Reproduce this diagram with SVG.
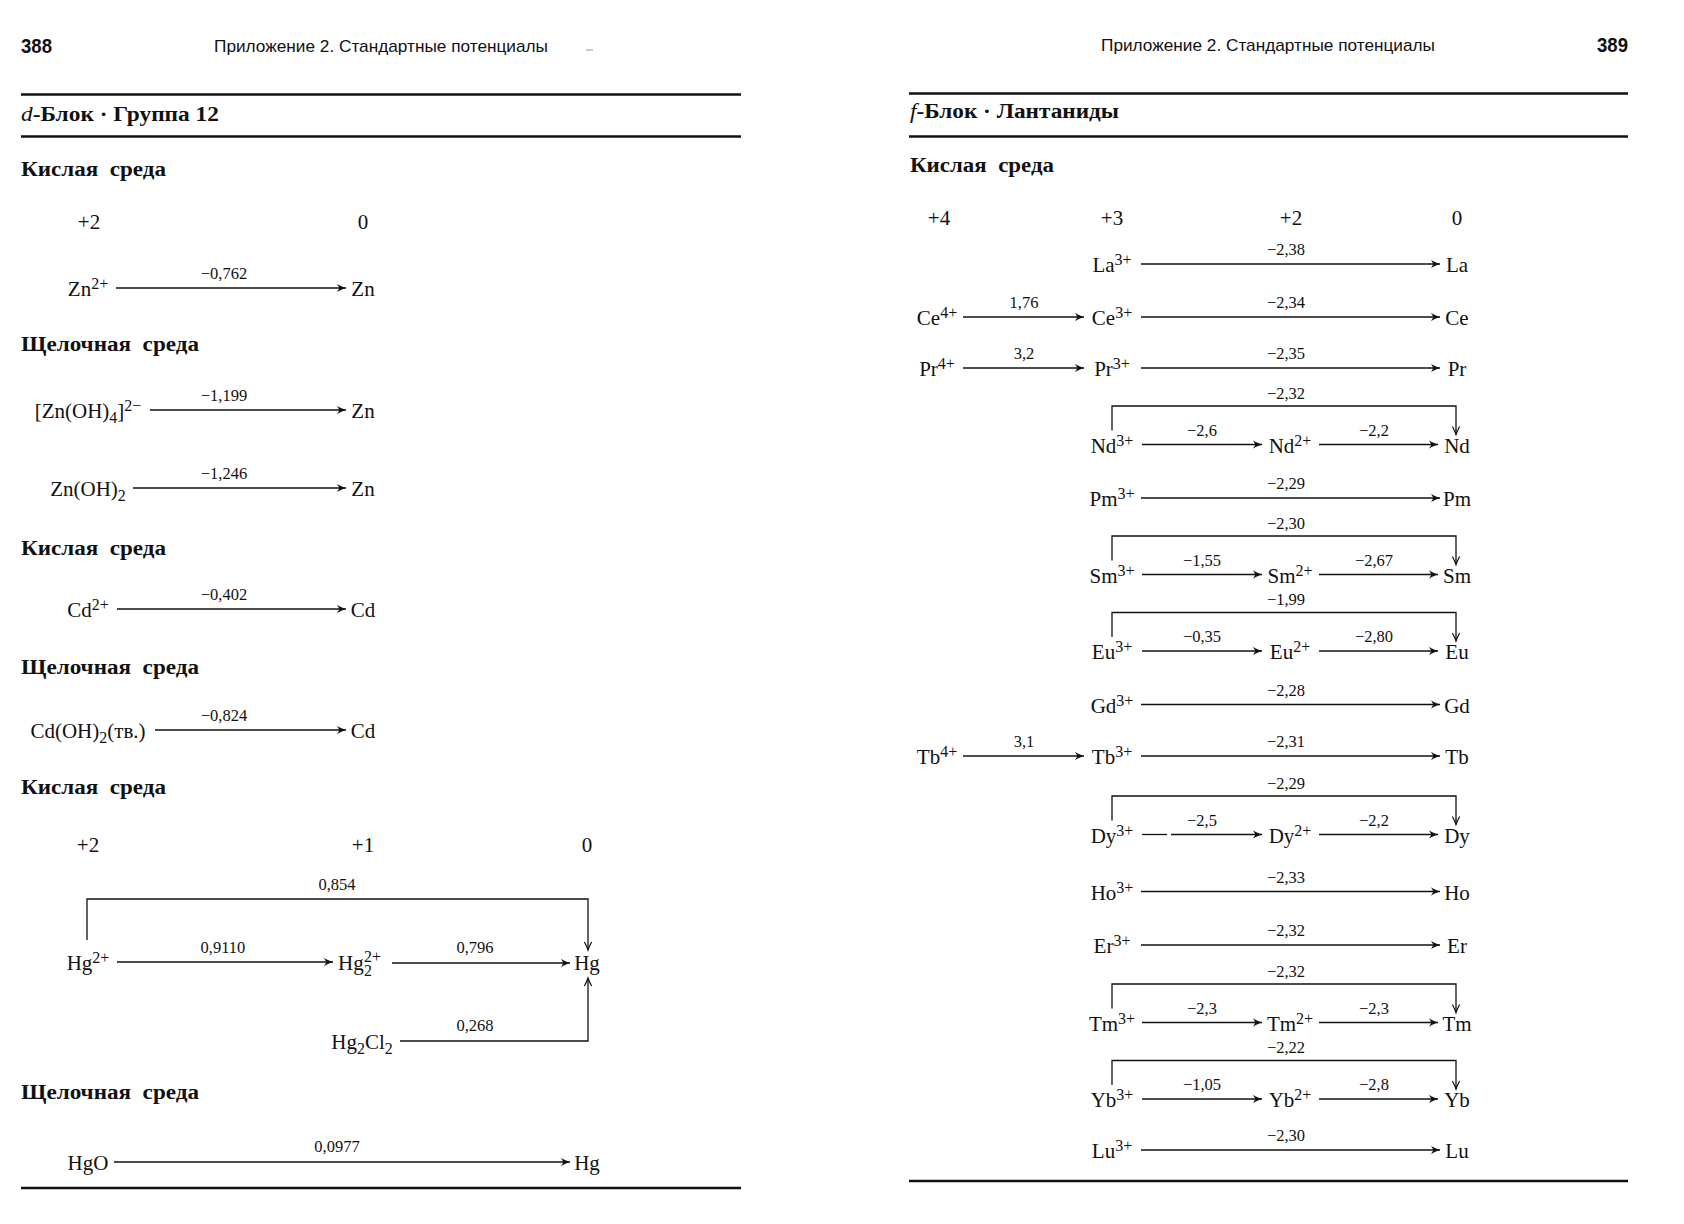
<svg xmlns="http://www.w3.org/2000/svg" width="1684" height="1224" viewBox="0 0 1684 1224">
<defs>
<style>
.el{font-family:"Liberation Serif","DejaVu Serif",serif;font-size:21px;fill:#111;text-anchor:middle}
.st{font-family:"Liberation Serif","DejaVu Serif",serif;font-size:21px;fill:#111;text-anchor:start}
.s{font-size:16px}
.lb{font-family:"Liberation Serif","DejaVu Serif",serif;font-size:16.5px;fill:#111;text-anchor:middle}
.hd{font-family:"Liberation Serif","DejaVu Serif",serif;font-weight:bold;font-size:20px;fill:#111}
.ox{font-family:"Liberation Serif","DejaVu Serif",serif;font-size:21px;fill:#111;text-anchor:middle}
.run{font-family:"Liberation Sans","Open Sans",sans-serif;font-size:17px;fill:#111}
.pg{font-family:"Liberation Sans","Open Sans",sans-serif;font-weight:bold;font-size:20px;fill:#111}
.ln{stroke:#111;stroke-width:1.3;fill:none}
.rule{stroke:#111;stroke-width:2.5}
</style>
<marker id="ah" viewBox="-10 -5 11 10" refX="0" refY="0" markerWidth="11" markerHeight="10" markerUnits="userSpaceOnUse" orient="auto" overflow="visible">
<path d="M0,0 C-3,-0.8 -6,-2.2 -9,-4.2 L-6.6,0 L-9,4.2 C-6,2.2 -3,0.8 0,0 Z" fill="#111"/>
</marker>
<marker id="av" viewBox="-10 -5 11 10" refX="0" refY="0" markerWidth="11" markerHeight="10" markerUnits="userSpaceOnUse" orient="auto" overflow="visible">
<path d="M-8,-3.6 Q-3,-1 0,0 Q-3,1 -8,3.6" fill="none" stroke="#111" stroke-width="1.2"/>
</marker>
</defs>
<rect width="1684" height="1224" fill="#fff"/>

<g id="page-left-frame">
<text class="pg" x="21" y="53" textLength="31" lengthAdjust="spacingAndGlyphs">388</text>
<text class="run" x="214" y="52" textLength="334" lengthAdjust="spacingAndGlyphs">Приложение 2. Стандартные потенциалы</text>
<line x1="586" y1="50" x2="593" y2="50" stroke="#999" stroke-width="1"/>
<line class="rule" x1="21" y1="94.5" x2="741" y2="94.5"/>
<line class="rule" x1="21" y1="136.5" x2="741" y2="136.5"/>
<line class="rule" x1="21" y1="1188" x2="741" y2="1188"/>
<text class="hd" x="21" y="121" textLength="198" lengthAdjust="spacingAndGlyphs"><tspan font-style="italic" font-weight="normal">d</tspan>-Блок · Группа 12</text>
<text class="hd" x="21" y="176" textLength="145" lengthAdjust="spacingAndGlyphs">Кислая <tspan dx="5">среда</tspan></text>
<text class="hd" x="21" y="351" textLength="178" lengthAdjust="spacingAndGlyphs">Щелочная <tspan dx="5">среда</tspan></text>
<text class="hd" x="21" y="555" textLength="145" lengthAdjust="spacingAndGlyphs">Кислая <tspan dx="5">среда</tspan></text>
<text class="hd" x="21" y="674" textLength="178" lengthAdjust="spacingAndGlyphs">Щелочная <tspan dx="5">среда</tspan></text>
<text class="hd" x="21" y="794" textLength="145" lengthAdjust="spacingAndGlyphs">Кислая <tspan dx="5">среда</tspan></text>
<text class="hd" x="21" y="1099" textLength="178" lengthAdjust="spacingAndGlyphs">Щелочная <tspan dx="5">среда</tspan></text>
<text class="ox" x="89" y="229">+2</text>
<text class="ox" x="363" y="229">0</text>
<text class="ox" x="88" y="852">+2</text>
<text class="ox" x="363" y="852">+1</text>
<text class="ox" x="587" y="852">0</text>
</g>

<g id="page-right-frame">
<text class="run" x="1101" y="51" textLength="334" lengthAdjust="spacingAndGlyphs">Приложение 2. Стандартные потенциалы</text>
<text class="pg" x="1597" y="52" textLength="31" lengthAdjust="spacingAndGlyphs">389</text>
<line class="rule" x1="909" y1="93.5" x2="1628" y2="93.5"/>
<line class="rule" x1="909" y1="136.5" x2="1628" y2="136.5"/>
<line class="rule" x1="909" y1="1181" x2="1628" y2="1181"/>
<text class="hd" x="910" y="118" textLength="209" lengthAdjust="spacingAndGlyphs"><tspan font-style="italic" font-weight="normal">f</tspan>-Блок · Лантаниды</text>
<text class="hd" x="910" y="171.5" textLength="144" lengthAdjust="spacingAndGlyphs">Кислая <tspan dx="5">среда</tspan></text>
<text class="ox" x="939" y="225">+4</text>
<text class="ox" x="1112" y="225">+3</text>
<text class="ox" x="1291" y="225">+2</text>
<text class="ox" x="1457" y="225">0</text>
</g>

<!-- Left page nodes -->
<g id="n-zn2p"><text class="el" x="88" y="296">Zn<tspan class="s" dy="-7">2+</tspan></text></g>
<g id="n-zn-a"><text class="el" x="363" y="296">Zn</text></g>
<g id="n-znoh4"><text class="el" x="88" y="418">[Zn(OH)<tspan class="s" dy="5">4</tspan><tspan dy="-5">]</tspan><tspan class="s" dy="-7">2−</tspan></text></g>
<g id="n-zn-b"><text class="el" x="363" y="418">Zn</text></g>
<g id="n-znoh2"><text class="el" x="88" y="496">Zn(OH)<tspan class="s" dy="5">2</tspan></text></g>
<g id="n-zn-c"><text class="el" x="363" y="496">Zn</text></g>
<g id="n-cd2p"><text class="el" x="88" y="617">Cd<tspan class="s" dy="-7">2+</tspan></text></g>
<g id="n-cd-a"><text class="el" x="363" y="617">Cd</text></g>
<g id="n-cdoh2"><text class="el" x="88" y="738">Cd(OH)<tspan class="s" dy="5">2</tspan><tspan dy="-5">(тв.)</tspan></text></g>
<g id="n-cd-b"><text class="el" x="363" y="738">Cd</text></g>
<g id="n-hg2p"><text class="el" x="88" y="970">Hg<tspan class="s" dy="-7">2+</tspan></text></g>
<g id="n-hg22p"><text class="st" x="338" y="970">Hg</text><text class="st s" x="364" y="976">2</text><text class="st s" x="364" y="962">2+</text></g>
<g id="n-hg-a"><text class="el" x="587" y="970">Hg</text></g>
<g id="n-hg2cl2"><text class="el" x="362" y="1049">Hg<tspan class="s" dy="5">2</tspan><tspan dy="-5">Cl</tspan><tspan class="s" dy="5">2</tspan></text></g>
<g id="n-hgo"><text class="el" x="88" y="1170">HgO</text></g>
<g id="n-hg-b"><text class="el" x="587" y="1170">Hg</text></g>

<!-- Right page nodes -->
<g id="n-la3"><text class="el" x="1112" y="272">La<tspan class="s" dy="-7">3+</tspan></text></g>
<g id="n-la"><text class="el" x="1457" y="272">La</text></g>
<g id="n-ce4"><text class="el" x="937" y="325">Ce<tspan class="s" dy="-7">4+</tspan></text></g>
<g id="n-ce3"><text class="el" x="1112" y="325">Ce<tspan class="s" dy="-7">3+</tspan></text></g>
<g id="n-ce"><text class="el" x="1457" y="325">Ce</text></g>
<g id="n-pr4"><text class="el" x="937" y="376">Pr<tspan class="s" dy="-7">4+</tspan></text></g>
<g id="n-pr3"><text class="el" x="1112" y="376">Pr<tspan class="s" dy="-7">3+</tspan></text></g>
<g id="n-pr"><text class="el" x="1457" y="376">Pr</text></g>
<g id="n-nd3"><text class="el" x="1112" y="452.5">Nd<tspan class="s" dy="-7">3+</tspan></text></g>
<g id="n-nd2"><text class="el" x="1290" y="452.5">Nd<tspan class="s" dy="-7">2+</tspan></text></g>
<g id="n-nd"><text class="el" x="1457" y="452.5">Nd</text></g>
<g id="n-pm3"><text class="el" x="1112" y="506">Pm<tspan class="s" dy="-7">3+</tspan></text></g>
<g id="n-pm"><text class="el" x="1457" y="506">Pm</text></g>
<g id="n-sm3"><text class="el" x="1112" y="582.5">Sm<tspan class="s" dy="-7">3+</tspan></text></g>
<g id="n-sm2"><text class="el" x="1290" y="582.5">Sm<tspan class="s" dy="-7">2+</tspan></text></g>
<g id="n-sm"><text class="el" x="1457" y="582.5">Sm</text></g>
<g id="n-eu3"><text class="el" x="1112" y="659">Eu<tspan class="s" dy="-7">3+</tspan></text></g>
<g id="n-eu2"><text class="el" x="1290" y="659">Eu<tspan class="s" dy="-7">2+</tspan></text></g>
<g id="n-eu"><text class="el" x="1457" y="659">Eu</text></g>
<g id="n-gd3"><text class="el" x="1112" y="712.5">Gd<tspan class="s" dy="-7">3+</tspan></text></g>
<g id="n-gd"><text class="el" x="1457" y="712.5">Gd</text></g>
<g id="n-tb4"><text class="el" x="937" y="764">Tb<tspan class="s" dy="-7">4+</tspan></text></g>
<g id="n-tb3"><text class="el" x="1112" y="764">Tb<tspan class="s" dy="-7">3+</tspan></text></g>
<g id="n-tb"><text class="el" x="1457" y="764">Tb</text></g>
<g id="n-dy3"><text class="el" x="1112" y="842.5">Dy<tspan class="s" dy="-7">3+</tspan></text></g>
<g id="n-dy2"><text class="el" x="1290" y="842.5">Dy<tspan class="s" dy="-7">2+</tspan></text></g>
<g id="n-dy"><text class="el" x="1457" y="842.5">Dy</text></g>
<g id="n-ho3"><text class="el" x="1112" y="899.5">Ho<tspan class="s" dy="-7">3+</tspan></text></g>
<g id="n-ho"><text class="el" x="1457" y="899.5">Ho</text></g>
<g id="n-er3"><text class="el" x="1112" y="953">Er<tspan class="s" dy="-7">3+</tspan></text></g>
<g id="n-er"><text class="el" x="1457" y="953">Er</text></g>
<g id="n-tm3"><text class="el" x="1112" y="1030.5">Tm<tspan class="s" dy="-7">3+</tspan></text></g>
<g id="n-tm2"><text class="el" x="1290" y="1030.5">Tm<tspan class="s" dy="-7">2+</tspan></text></g>
<g id="n-tm"><text class="el" x="1457" y="1030.5">Tm</text></g>
<g id="n-yb3"><text class="el" x="1112" y="1107">Yb<tspan class="s" dy="-7">3+</tspan></text></g>
<g id="n-yb2"><text class="el" x="1290" y="1107">Yb<tspan class="s" dy="-7">2+</tspan></text></g>
<g id="n-yb"><text class="el" x="1457" y="1107">Yb</text></g>
<g id="n-lu3"><text class="el" x="1112" y="1158">Lu<tspan class="s" dy="-7">3+</tspan></text></g>
<g id="n-lu"><text class="el" x="1457" y="1158">Lu</text></g>

<g id="connectors">
<line class="ln" x1="116" y1="288" x2="346" y2="288" marker-end="url(#ah)"/><text class="lb" x="224" y="279">−0,762</text>
<line class="ln" x1="150" y1="410" x2="346" y2="410" marker-end="url(#ah)"/><text class="lb" x="224" y="401">−1,199</text>
<line class="ln" x1="133" y1="488" x2="346" y2="488" marker-end="url(#ah)"/><text class="lb" x="224" y="479">−1,246</text>
<line class="ln" x1="117" y1="609" x2="346" y2="609" marker-end="url(#ah)"/><text class="lb" x="224" y="600">−0,402</text>
<line class="ln" x1="155" y1="730" x2="346" y2="730" marker-end="url(#ah)"/><text class="lb" x="224" y="721">−0,824</text>
<path class="ln" d="M87,940 V899 H588 V950" marker-end="url(#av)"/><text class="lb" x="337" y="890">0,854</text>
<line class="ln" x1="117" y1="962" x2="333" y2="962" marker-end="url(#ah)"/><text class="lb" x="223" y="953">0,9110</text>
<line class="ln" x1="392" y1="963" x2="570" y2="963" marker-end="url(#ah)"/><text class="lb" x="475" y="953">0,796</text>
<path class="ln" d="M400,1041 H588 V978" marker-end="url(#av)"/><text class="lb" x="475" y="1031">0,268</text>
<line class="ln" x1="114" y1="1162" x2="570" y2="1162" marker-end="url(#ah)"/><text class="lb" x="337" y="1152">0,0977</text>
<line class="ln" x1="1141" y1="264" x2="1440" y2="264" marker-end="url(#ah)"/><text class="lb" x="1286" y="255">−2,38</text>
<line class="ln" x1="963" y1="317" x2="1084" y2="317" marker-end="url(#ah)"/><text class="lb" x="1024" y="308">1,76</text>
<line class="ln" x1="1141" y1="317" x2="1440" y2="317" marker-end="url(#ah)"/><text class="lb" x="1286" y="308">−2,34</text>
<line class="ln" x1="963" y1="368" x2="1084" y2="368" marker-end="url(#ah)"/><text class="lb" x="1024" y="359">3,2</text>
<line class="ln" x1="1141" y1="368" x2="1440" y2="368" marker-end="url(#ah)"/><text class="lb" x="1286" y="359">−2,35</text>
<path class="ln" d="M1112,430.5 V406 H1456 V434.5" marker-end="url(#av)"/><text class="lb" x="1286" y="398.5">−2,32</text>
<line class="ln" x1="1142" y1="444.5" x2="1262" y2="444.5" marker-end="url(#ah)"/><text class="lb" x="1202" y="435.5">−2,6</text>
<line class="ln" x1="1319" y1="444.5" x2="1438" y2="444.5" marker-end="url(#ah)"/><text class="lb" x="1374" y="435.5">−2,2</text>
<line class="ln" x1="1141" y1="498" x2="1440" y2="498" marker-end="url(#ah)"/><text class="lb" x="1286" y="489">−2,29</text>
<path class="ln" d="M1112,560.5 V536 H1456 V564.5" marker-end="url(#av)"/><text class="lb" x="1286" y="528.5">−2,30</text>
<line class="ln" x1="1142" y1="574.5" x2="1262" y2="574.5" marker-end="url(#ah)"/><text class="lb" x="1202" y="565.5">−1,55</text>
<line class="ln" x1="1319" y1="574.5" x2="1438" y2="574.5" marker-end="url(#ah)"/><text class="lb" x="1374" y="565.5">−2,67</text>
<path class="ln" d="M1112,637 V612.5 H1456 V641" marker-end="url(#av)"/><text class="lb" x="1286" y="605">−1,99</text>
<line class="ln" x1="1142" y1="651" x2="1262" y2="651" marker-end="url(#ah)"/><text class="lb" x="1202" y="642">−0,35</text>
<line class="ln" x1="1319" y1="651" x2="1438" y2="651" marker-end="url(#ah)"/><text class="lb" x="1374" y="642">−2,80</text>
<line class="ln" x1="1141" y1="704.5" x2="1440" y2="704.5" marker-end="url(#ah)"/><text class="lb" x="1286" y="695.5">−2,28</text>
<line class="ln" x1="963" y1="756" x2="1084" y2="756" marker-end="url(#ah)"/><text class="lb" x="1024" y="747">3,1</text>
<line class="ln" x1="1141" y1="756" x2="1440" y2="756" marker-end="url(#ah)"/><text class="lb" x="1286" y="747">−2,31</text>
<path class="ln" d="M1112,820.5 V796 H1456 V824.5" marker-end="url(#av)"/><text class="lb" x="1286" y="788.5">−2,29</text>
<line class="ln" x1="1142" y1="834.5" x2="1167" y2="834.5"/>
<line class="ln" x1="1171" y1="834.5" x2="1262" y2="834.5" marker-end="url(#ah)"/><text class="lb" x="1202" y="825.5">−2,5</text>
<line class="ln" x1="1319" y1="834.5" x2="1438" y2="834.5" marker-end="url(#ah)"/><text class="lb" x="1374" y="825.5">−2,2</text>
<line class="ln" x1="1141" y1="891.5" x2="1440" y2="891.5" marker-end="url(#ah)"/><text class="lb" x="1286" y="882.5">−2,33</text>
<line class="ln" x1="1141" y1="945" x2="1440" y2="945" marker-end="url(#ah)"/><text class="lb" x="1286" y="936">−2,32</text>
<path class="ln" d="M1112,1008.5 V984 H1456 V1012.5" marker-end="url(#av)"/><text class="lb" x="1286" y="976.5">−2,32</text>
<line class="ln" x1="1142" y1="1022.5" x2="1262" y2="1022.5" marker-end="url(#ah)"/><text class="lb" x="1202" y="1013.5">−2,3</text>
<line class="ln" x1="1319" y1="1022.5" x2="1438" y2="1022.5" marker-end="url(#ah)"/><text class="lb" x="1374" y="1013.5">−2,3</text>
<path class="ln" d="M1112,1085 V1060.5 H1456 V1089" marker-end="url(#av)"/><text class="lb" x="1286" y="1053">−2,22</text>
<line class="ln" x1="1142" y1="1099" x2="1262" y2="1099" marker-end="url(#ah)"/><text class="lb" x="1202" y="1090">−1,05</text>
<line class="ln" x1="1319" y1="1099" x2="1438" y2="1099" marker-end="url(#ah)"/><text class="lb" x="1374" y="1090">−2,8</text>
<line class="ln" x1="1141" y1="1150" x2="1440" y2="1150" marker-end="url(#ah)"/><text class="lb" x="1286" y="1141">−2,30</text>
</g>
</svg>
